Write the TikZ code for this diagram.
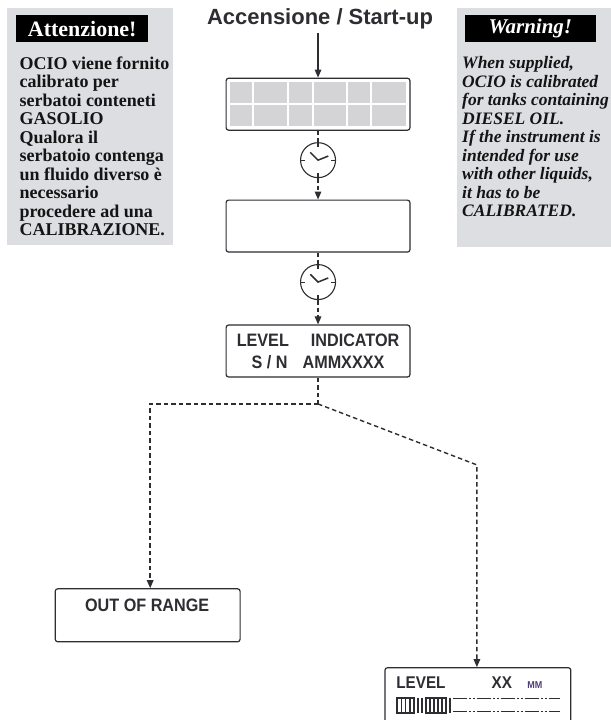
\documentclass[tikz,border=0pt]{standalone}
\usepackage{fontspec}
\setmainfont{Liberation Serif}
\newfontfamily\headsans{Liberation Sans}
\newfontfamily\narrowsans[FakeStretch=0.9]{Liberation Sans}
\usetikzlibrary{arrows.meta}
\definecolor{panel}{RGB}{221,222,226}
\definecolor{lcd}{RGB}{212,212,214}
\definecolor{ink}{RGB}{45,45,50}
\definecolor{unitink}{RGB}{78,62,118}

\begin{document}
\begin{tikzpicture}[unit length/.code={{\newdimen\tikzunit}\setlength{\tikzunit}{#1}},unit length=1pt,x=\tikzunit,y=\tikzunit,semithick,box/.style={rectangle,draw=ink,line width=1.2\tikzunit,rounded corners=2.5\tikzunit,inner sep=0},panel box/.style={rectangle,fill=panel,inner sep=0},head tag/.style={rectangle,fill=black,text=white,inner sep=0},clock face/.style={circle,draw=ink,line width=1.1\tikzunit,inner sep=0,minimum size=35\tikzunit},outer box/.style={draw=none,inner sep=0},wire/.style={draw=ink,line width=1.4\tikzunit},dashed wire/.style={wire,dash pattern=on 4.5\tikzunit off 3\tikzunit},flow tip/.style={-{Triangle[length=8pt,width=6.5pt]}},lcd text/.style={text=ink,inner sep=0,font=\narrowsans\bfseries\fontsize{18}{22}\selectfont}]
  \node[outer box,minimum width=610\tikzunit,minimum height=720\tikzunit] (root) at (305,-360) {};
  \useasboundingbox (root.south west) rectangle (root.north east);
  % side notes
  \node[panel box,minimum width=166\tikzunit,minimum height=237\tikzunit] (p1) at (90,-126.5) {};
  \node[head tag,minimum width=132\tikzunit,minimum height=27\tikzunit,font=\bfseries\fontsize{22}{24}\selectfont] (h1) at (82,-28.5) {Attenzione!};
  \node[anchor=north west,align=left,inner sep=0,text=black!92,font=\bfseries\fontsize{18}{18.5}\selectfont] (t1) at (19,-56) {OCIO viene fornito\\calibrato per\\serbatoi conteneti\\GASOLIO\\Qualora il\\serbatoio contenga\\un fluido diverso è\\necessario\\procedere ad una\\CALIBRAZIONE.};
  \node[panel box,minimum width=156\tikzunit,minimum height=239\tikzunit] (p2) at (535,-127.5) {};
  \node[head tag,minimum width=131\tikzunit,minimum height=27\tikzunit,font=\bfseries\itshape\fontsize{21}{24}\selectfont] (h2) at (530.5,-28.5) {Warning!};
  \node[anchor=north west,align=left,inner sep=0,text=black!92,font=\bfseries\itshape\fontsize{17.5}{18.5}\selectfont] (t2) at (462,-56) {When supplied,\\OCIO is calibrated\\for tanks containing\\DIESEL OIL.\\If the instrument is\\intended for use\\with other liquids,\\it has to be\\CALIBRATED.};
  % flow
  \node[text=ink,font=\headsans\bfseries\fontsize{22}{26}\selectfont] (n1) at (320,-19) {Accensione / Start-up};
  \node[box,minimum width=184\tikzunit,minimum height=52\tikzunit] (n2) at (318,-104) {};
  \fill[lcd] (230,-82) rectangle (406,-126);
  \foreach \gx in {253,288,313,347,371}
    \draw[white,line width=1.6\tikzunit] (\gx,-82) -- (\gx,-126);
  \draw[white,line width=1.6\tikzunit] (230,-104) -- (406,-104);
  \node[clock face] (c1) at (318,-160) {};
  \node[box,minimum width=184\tikzunit,minimum height=52\tikzunit] (n3) at (318,-226) {};
  \node[clock face] (c2) at (318,-282) {};
  \node[box,lcd text,align=center,minimum width=184\tikzunit,minimum height=52\tikzunit] (n4) at (318,-351) {LEVEL\hspace*{22pt}INDICATOR\\S / N\hspace*{15pt}AMMXXXX};
  \node[box,minimum width=185\tikzunit,minimum height=53\tikzunit] (n5) at (147.5,-615.5) {};
  \node[lcd text] (n5t) at (147,-606) {OUT OF RANGE};
  \node[box,minimum width=186\tikzunit,minimum height=64\tikzunit] (n6) at (478,-700) {};
  \node[lcd text,anchor=west,font=\narrowsans\bfseries\fontsize{17}{20}\selectfont] (n7) at (396,-683) {LEVEL};
  \node[lcd text,font=\narrowsans\bfseries\fontsize{17}{20}\selectfont] (n8) at (502,-683) {XX};
  \node[lcd text,text=unitink,font=\narrowsans\bfseries\fontsize{10}{12}\selectfont] (n9) at (535,-685) {MM};
  % bar graph
  \draw[ink,line width=1.6\tikzunit] (397,-698) rectangle (414,-713);
  \draw[ink,line width=1.6\tikzunit] (426,-698) rectangle (446,-713);
  \foreach \bx in {401.5,405.5,410,418,422,430,434,438,442,450}
    \draw[ink,line width=1.8\tikzunit] (\bx,-698) -- (\bx,-713);
  \draw[ink,line width=1.5\tikzunit,dash pattern=on 14\tikzunit off 2\tikzunit on 2\tikzunit off 2\tikzunit on 2\tikzunit off 2\tikzunit] (453,-699) -- (560,-699);
  \draw[ink,line width=1.5\tikzunit,dash pattern=on 14\tikzunit off 2\tikzunit on 2\tikzunit off 2\tikzunit on 2\tikzunit off 2\tikzunit] (453,-712) -- (560,-712);
  % clock hands and ticks
  \foreach \c in {c1,c2} {
    \draw[ink,line width=1.5\tikzunit] (\c.center) ++(135:11) -- (\c.center) -- ++(22:11);
    \foreach \a in {0,90,180,270}
      \draw[ink,line width=1.1\tikzunit] (\c.center) ++(\a:13) -- ++(\a:4.5);
  }
  \coordinate (k0) at (318,-404);
  \coordinate (k1) at (150,-404);
  \coordinate (k2) at (477,-465);
  \path[wire,flow tip] (n1.south -| n2.north) -- (n2.north);
  \path[dashed wire] (n2.south) -- (c1.north);
  \path[dashed wire,flow tip] (c1.south) -- (n3.north);
  \path[dashed wire] (n3.south) -- (c2.north);
  \path[dashed wire,flow tip] (c2.south) -- (n4.north);
  \path[dashed wire] (n4.south) -- (k0);
  \path[dashed wire,flow tip] (k0) -- (k1) -- (n5.north -| k1);
  \path[dashed wire,flow tip] (k0) -- (k2) -- (n6.north -| k2);
\end{tikzpicture}
\end{document}
